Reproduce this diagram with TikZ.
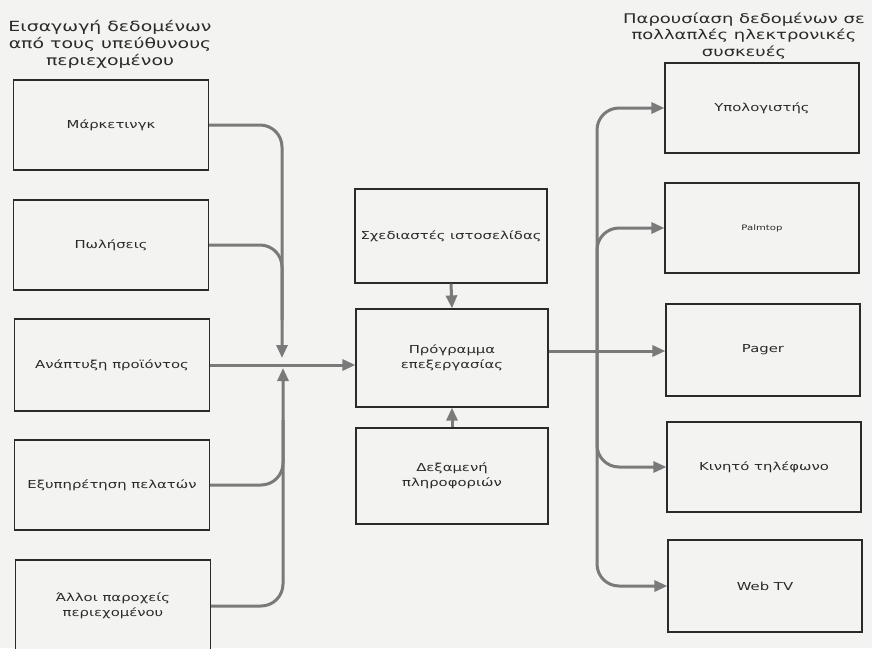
\documentclass[tikz,border=0pt]{standalone}
\usepackage{fontspec}
\setmainfont[FakeStretch=1.35]{DejaVu Sans}
\usetikzlibrary{arrows.meta}
\definecolor{paper}{HTML}{F3F3F1}
\definecolor{ink}{HTML}{2A2A2A}
\definecolor{wire}{HTML}{7A7A7A}
\begin{document}
\begin{tikzpicture}[x=1pt,y=-1pt,
  box/.style={draw=ink, line width=1.2pt, fill=paper, minimum width=195pt,
    minimum height=90pt, inner sep=2pt, align=center, text=ink,
    font=\fontsize{11}{15}\selectfont},
  heading/.style={align=center, text=ink, font=\fontsize{14}{17}\selectfont},
  wire/.style={draw=wire, line width=3pt, rounded corners=22pt},
  tip/.style={-{Triangle[length=13pt,width=11pt]}}]
\fill[paper] (0,0) rectangle (872,648);
\useasboundingbox (0,0) rectangle (872,648);

% headings
\node[heading] (tl) at (110,44) {Εισαγωγή δεδομένων\\από τους υπεύθυνους\\περιεχομένου};
\node[heading, font=\fontsize{13.3}{16.5}\selectfont] (tr) at (744,36) {Παρουσίαση δεδομένων σε\\πολλαπλές ηλεκτρονικές\\συσκευές};

% content sources
\node[box] (mk) at (111,125) {Μάρκετινγκ};
\node[box] (pw) at (111,245) {Πωλήσεις};
\node[box, minimum height=92pt] (an) at (112,365) {Ανάπτυξη προϊόντος};
\node[box] (ex) at (112,485) {Εξυπηρέτηση πελατών};
\node[box, minimum height=92pt] (al) at (113,606) {Άλλοι παροχείς\\περιεχομένου};

% processing
\node[box, minimum width=192pt, minimum height=94pt] (sx) at (451,236) {Σχεδιαστές ιστοσελίδας};
\node[box, minimum width=192pt, minimum height=98pt] (pr) at (452,358) {Πρόγραμμα\\επεξεργασίας};
\node[box, minimum width=192pt, minimum height=96pt] (dx) at (452,476) {Δεξαμενή\\πληροφοριών};

% output devices
\node[box, minimum width=194pt] (yp) at (762,108) {Υπολογιστής};
\node[box, minimum width=194pt, font=\fontsize{7.5}{9}\selectfont] (pa) at (762,228) {Palmtop};
\node[box, minimum width=194pt, minimum height=92pt] (pg) at (763,350) {Pager};
\node[box, minimum width=194pt] (ki) at (764,467) {Κινητό τηλέφωνο};
\node[box, minimum width=194pt, minimum height=92pt] (wt) at (765,586) {Web TV};

% input bus
\coordinate (jt) at (282,358);
\coordinate (jb) at (283,368);
\coordinate (m1) at (282,320);
\coordinate (m2) at (283,420);
\draw[wire, tip] (mk.east) -| (jt);
\draw[wire] (pw.east) -| (m1);
\draw[wire] (ex.east) -| (m2);
\draw[wire, tip] (al.east) -| (jb);
\draw[wire, tip] (an.east) -- (an.east -| pr.west);

% supporting inputs
\draw[wire, tip] (sx.south) -- (pr.north);
\draw[wire, tip] (dx.north) -- (pr.south);

% output bus
\coordinate (hub) at (597,351);
\draw[wire] ([yshift=7pt]pr.east) -- (hub);
\draw[wire, tip] (hub) -- (hub -| pg.west);
\draw[wire, tip] (hub) |- (yp.west);
\draw[wire, tip] (hub) |- (pa.west);
\draw[wire, tip] (hub) |- (ki.west);
\draw[wire, tip] (hub) |- (wt.west);
\end{tikzpicture}
\end{document}
